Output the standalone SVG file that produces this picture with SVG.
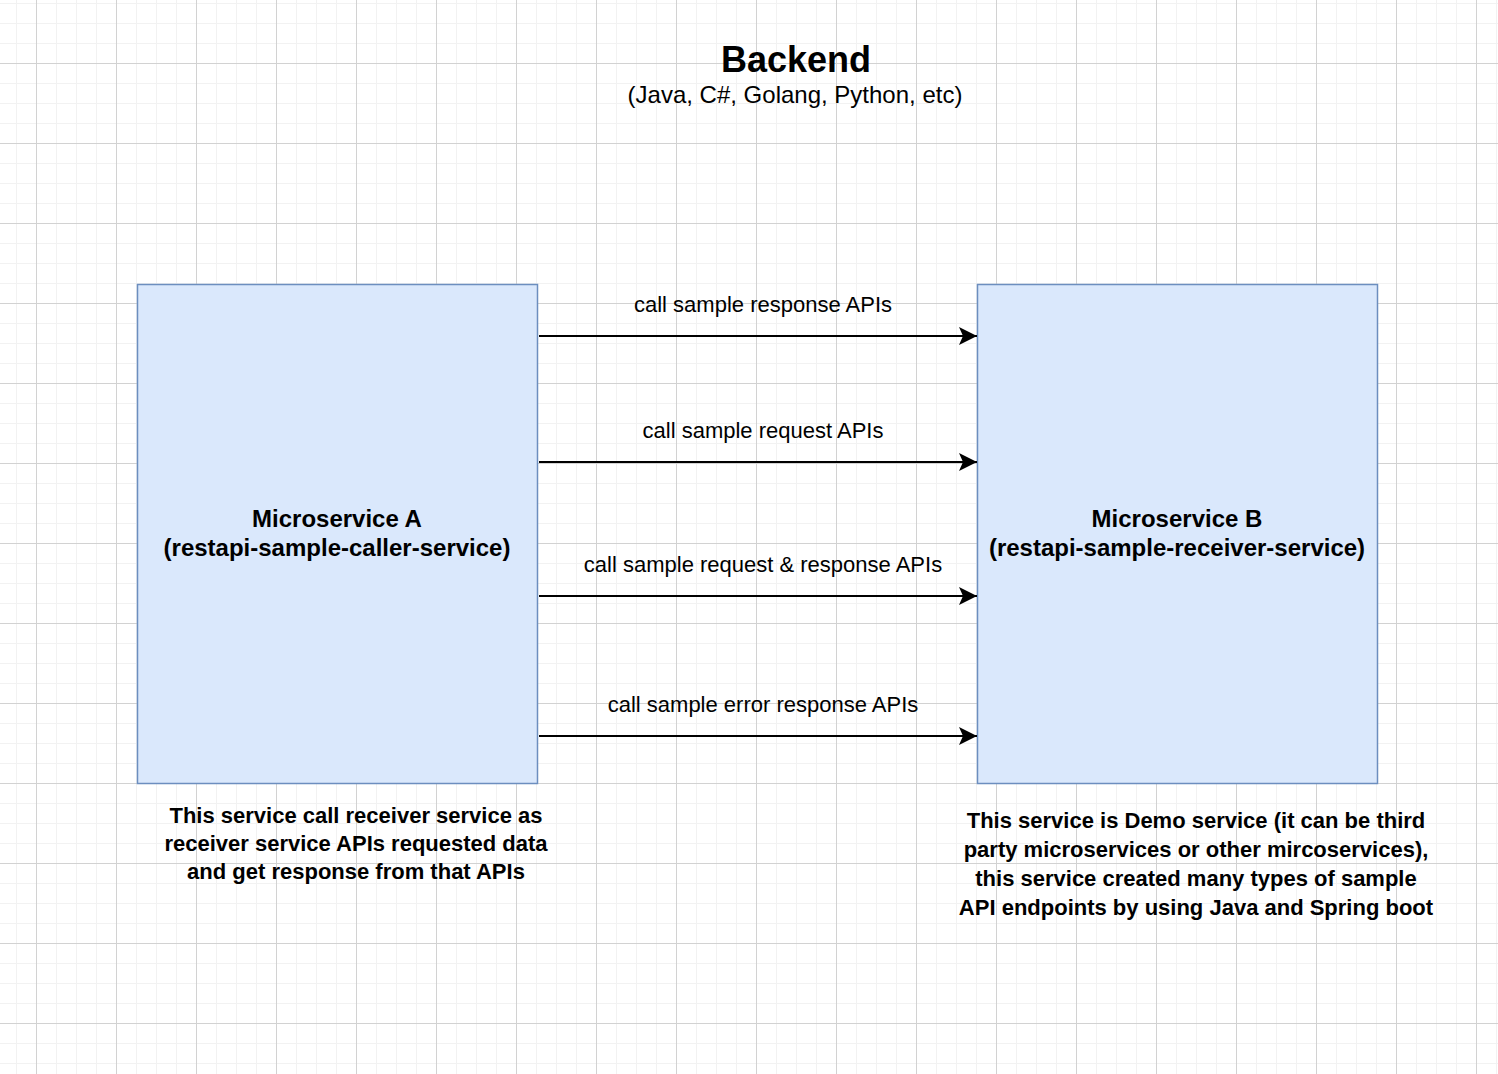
<svg xmlns="http://www.w3.org/2000/svg" width="1498" height="1074" viewBox="0 0 1498 1074">
<defs>
<pattern id="grid" x="36" y="63" width="80" height="80" patternUnits="userSpaceOnUse">
<rect x="20" y="0" width="1" height="80" fill="#f2f2f2"/>
<rect x="40" y="0" width="1" height="80" fill="#f2f2f2"/>
<rect x="60" y="0" width="1" height="80" fill="#f2f2f2"/>
<rect x="0" y="20" width="80" height="1" fill="#f2f2f2"/>
<rect x="0" y="40" width="80" height="1" fill="#f2f2f2"/>
<rect x="0" y="60" width="80" height="1" fill="#f2f2f2"/>
<rect x="0" y="0" width="1" height="80" fill="#d2d2d2"/>
<rect x="0" y="0" width="80" height="1" fill="#d2d2d2"/>
</pattern>
<marker id="arrow" markerUnits="userSpaceOnUse" markerWidth="20" markerHeight="20" viewBox="0 0 20 20" refX="18" refY="10" orient="auto">
<path d="M18,10 L0,1 L4,10 L0,19 Z" fill="#000"/>
</marker>
</defs>
<style>
text{font-family:"Liberation Sans",Arial,Helvetica,sans-serif;fill:#000;text-anchor:middle}
.box{fill:#dae8fc;stroke:#6c8ebf;stroke-width:1.5}
.lbl{font-size:24px;font-weight:bold}
.edge{stroke:#000;stroke-width:2;fill:none;marker-end:url(#arrow)}
.el{font-size:22px}
.note{font-size:22px;font-weight:bold}
</style>
<rect width="1498" height="1074" fill="#fff"/>
<rect width="1498" height="1074" fill="url(#grid)"/>
<g id="title">
<text x="796" y="72" style="font-size:36px;font-weight:bold">Backend</text>
<text x="795" y="103" style="font-size:24px">(Java, C#, Golang, Python, etc)</text>
</g>
<g id="microservice-a">
<rect class="box" x="137.5" y="284.5" width="400" height="499"/>
<text class="lbl" x="337" y="527">Microservice A</text>
<text class="lbl" x="337" y="556">(restapi-sample-caller-service)</text>
</g>
<g id="microservice-b">
<rect class="box" x="977.5" y="284.5" width="400" height="499"/>
<text class="lbl" x="1177" y="527">Microservice B</text>
<text class="lbl" x="1177" y="556">(restapi-sample-receiver-service)</text>
</g>
<g id="note-a">
<text class="note" x="356" y="823">This service call receiver service as</text>
<text class="note" x="356" y="851">receiver service APIs requested data</text>
<text class="note" x="356" y="879">and get response from that APIs</text>
</g>
<g id="note-b">
<text class="note" x="1196" y="828">This service is Demo service (it can be third</text>
<text class="note" x="1196" y="857">party microservices or other mircoservices),</text>
<text class="note" x="1196" y="886">this service created many types of sample</text>
<text class="note" x="1196" y="915">API endpoints by using Java and Spring boot</text>
</g>
<g id="connectors">
<line class="edge" x1="539" y1="336" x2="977" y2="336"/>
<text class="el" x="763" y="312">call sample response APIs</text>
<line class="edge" x1="539" y1="462" x2="977" y2="462"/>
<text class="el" x="763" y="438">call sample request APIs</text>
<line class="edge" x1="539" y1="596" x2="977" y2="596"/>
<text class="el" x="763" y="572">call sample request &amp; response APIs</text>
<line class="edge" x1="539" y1="736" x2="977" y2="736"/>
<text class="el" x="763" y="712">call sample error response APIs</text>
</g>
</svg>
